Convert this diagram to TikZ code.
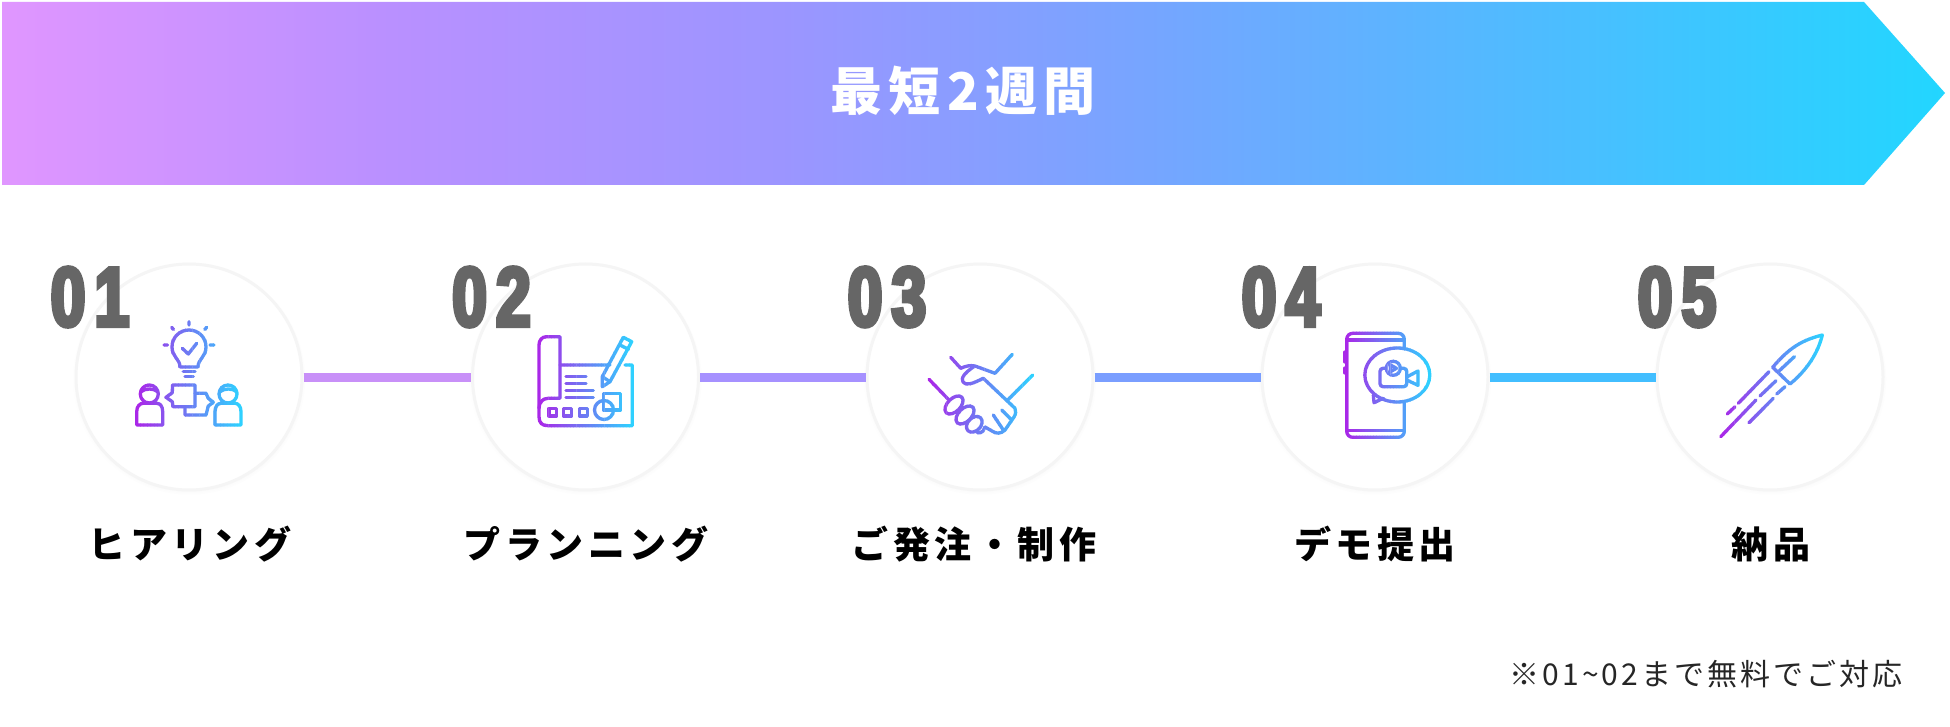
\documentclass[tikz,border=0pt]{standalone}
\usepackage{fontspec}
\usepackage{tikz}
\usetikzlibrary{shadows,fadings}
\newfontfamily\jpfont[LetterSpace=12]{Noto Sans CJK JP}
\newfontfamily\notefont[LetterSpace=10]{Noto Sans CJK JP}
\newfontfamily\numfont[FakeStretch=0.74,FakeBold=5,LetterSpace=11]{Liberation Sans Bold}
\definecolor{numgray}{HTML}{666666}
\definecolor{iconA}{HTML}{A928E8}
\definecolor{iconB}{HTML}{2FD0FF}
\definecolor{fadeA}{HTML}{E096FF}
\definecolor{fadeB}{HTML}{B990FF}
\definecolor{fadeC}{HTML}{9C95FF}
\definecolor{fadeD}{HTML}{74A6FF}
\definecolor{fadeE}{HTML}{4CBDFF}
\definecolor{fadeF}{HTML}{22D6FF}
\pgfdeclarehorizontalshading{barfade}{100bp}{color(0bp)=(fadeA); color(25bp)=(fadeA); color(35bp)=(fadeB); color(45bp)=(fadeC); color(55bp)=(fadeD); color(65bp)=(fadeE); color(75bp)=(fadeF); color(100bp)=(fadeF)}
\tikzset{
  stepcircle/.style={circle, minimum size=226pt, inner sep=0pt, fill=white, draw=black!4, line width=3pt,
    circular drop shadow={shadow xshift=0pt, shadow yshift=-1.5pt, shadow scale=1.03, opacity=0.12}},
  stepnum/.style={inner sep=0pt, text=numgray, font=\numfont\fontsize{84}{84}\selectfont},
  steplabel/.style={inner sep=0pt, text=black, font=\jpfont\bfseries\fontsize{37}{37}\selectfont},
  linkbar/.style={line width=9pt},
  iconline/.style={draw=icontint, line width=3.3pt, line cap=round, line join=round}
}
% one icon, cut in thin upright slices so the stroke runs from purple to cyan
\newcommand{\gradicon}[3]{%
  \foreach \i in {0,...,29} {
    \pgfmathsetmacro{\mixval}{100*\i/29}
    \colorlet{icontint}{iconB!\mixval!iconA}
    \pgfmathsetmacro{\slicel}{#1+(#2-#1)*\i/30-3}
    \pgfmathsetmacro{\slicer}{#1+(#2-#1)*(\i+1)/30+3.4}
    \pgfmathsetmacro{\sliceb}{\i==0 ? #1-8 : \slicel+3}
    \pgfmathsetmacro{\slicee}{\i==29 ? #2+8 : \slicer-3}
    \begin{scope}
      \clip (\sliceb,300) rectangle (\slicee,460);
      #3
    \end{scope}
  }
}
\begin{document}
\begin{tikzpicture}[x=1pt, y=-1pt]
  \useasboundingbox[fill=white] (0,0) rectangle (1950,727);

  % banner
  \shade[shading=barfade] (2,2) -- (1864,2) -- (1945,93) -- (1864,185) -- (2,185) -- cycle;
  \node[inner sep=0pt, text=white, font=\jpfont\bfseries\fontsize{52}{52}\selectfont] (title) at (963,91) {最短2週間};

  % circles, labels and numbers
  \foreach \n/\x/\lx/\nx/\t in {
    1/189/190/90/ヒアリング,
    2/585.5/586/491.5/プランニング,
    3/980/974/887/ご発注・制作,
    4/1375/1375/1281/デモ提出,
    5/1770/1771/1677/納品}
  {
    \node[stepcircle] (c\n) at (\x,377) {};
    \node[steplabel] (label\n) at (\lx,544) {\t};
  }

  % links between the circles
  \draw[linkbar, color={rgb,255:red,200;green,144;blue,248}] (c1.east) -- (c2.west);
  \draw[linkbar, color={rgb,255:red,166;green,145;blue,255}] (c2.east) -- (c3.west);
  \draw[linkbar, color={rgb,255:red,122;green,158;blue,255}] (c3.east) -- (c4.west);
  \draw[linkbar, color={rgb,255:red,66;green,190;blue,255}] (c4.east) -- (c5.west);

  \foreach \n/\x/\t in {1/90/01, 2/491.5/02, 3/887/03, 4/1281/04, 5/1677/05}
    \node[stepnum] (num\n) at (\x,297) {\t};

  % 01 bulb, two people, speech
  \gradicon{136.7}{241}{
    \draw[iconline] (180,367) .. controls (180,359) and (172,357) .. (172,347) .. controls (172,337) and (180,330) .. (189,330) .. controls (198,330) and (206,337) .. (206,347) .. controls (206,357) and (198,359) .. (198,367) -- cycle;
    \draw[iconline] (183.3,371.7) -- (195,371.7) (185,376.7) -- (193.3,376.7);
    \draw[iconline] (182.3,348.3) -- (188.3,354) -- (196.7,343.3);
    \draw[iconline] (189,321.7) -- (189,325) (171.7,327.3) -- (173.5,329.5) (206.7,327.3) -- (204.7,329.5) (164,345) -- (167.5,345) (210,345) -- (214,345);
    \draw[iconline] (149.3,394) circle (9);
    \draw[iconline] (140.5,392) .. controls (145,388) and (154,388) .. (158,392);
    \draw[iconline] (136.7,425) -- (136.7,411.7) .. controls (136.7,406) and (140,403.3) .. (143.3,403.3) -- (156.7,403.3) .. controls (160,403.3) and (162.7,406) .. (162.7,411.7) -- (162.7,425) -- cycle;
    \draw[iconline] (228,394) circle (9);
    \draw[iconline] (219.5,392) .. controls (224,388) and (233,388) .. (237,392);
    \draw[iconline] (215,425) -- (215,411.7) .. controls (215,406) and (218,403.3) .. (221,403.3) -- (235,403.3) .. controls (238,403.3) and (241,406) .. (241,411.7) -- (241,425) -- cycle;
    \draw[iconline] (172.5,385) -- (195,385) -- (195,406.7) -- (173,406.7) -- (172.3,401.7) -- (166,397.3) -- (172.3,392.7) -- cycle;
    \draw[iconline] (195,393.3) -- (206,393.3) -- (208.3,398.3) -- (213.3,402.3) -- (208.3,406) -- (206,415) -- (185,415) -- (185,406.7);
  }

  % 02 plan and pencil
  \gradicon{539}{632.3}{
    \draw[iconline] (610,365) -- (560,365) -- (560,336.7) -- (546.7,336.7) .. controls (542,336.7) and (539,340) .. (539,345) -- (539,416.7) .. controls (539,423) and (542,425.7) .. (548.3,425.7) -- (632.3,425.7) -- (632.3,365) -- (625,365);
    \draw[iconline] (560,365) -- (560,398.3) -- (548.3,398.3) .. controls (543,398.3) and (539,402) .. (539,408.3);
    \draw[iconline] (566,376.7) -- (586,376.7) (566,383.3) -- (586,383.3) (566,390.7) -- (593.3,390.7) (566,397.3) -- (593.3,397.3);
    \draw[iconline] (549,408.3) rectangle (556.7,416) (563.3,408.3) rectangle (571.7,416) (579.3,408.3) rectangle (587.3,416);
    \draw[iconline] (603.3,393.3) rectangle (620.7,410);
    \draw[iconline] (604,410) circle (9.5);
    \draw[iconline] (602.3,386.7) -- (602.3,376.7) -- (623.3,337.3) -- (631.7,341.7) -- (610,381.7) -- cycle;
    \draw[iconline] (620,345) -- (628.3,349.3) (602.3,376.7) -- (610,381.7);
  }

  % 03 handshake
  \gradicon{929}{1032.7}{
    \draw[iconline] (929,379.3) -- (948.3,399.3);
    \draw[iconline] (950.7,357.3) -- (960.7,368.3) .. controls (966,366) and (970,365) .. (975,366) -- (995,373.3) -- (1012.3,354.3);
    \draw[iconline] (1032.7,375) -- (1007.7,400);
    \draw[iconline] (973.3,367) .. controls (966,372) and (960,378) .. (963,382) .. controls (966,386) and (972,384) .. (983.3,378.3) -- (1015,408.3) .. controls (1016,411) and (1016,414) .. (1014,417) -- (1005,430) .. controls (1001,434) and (996,434) .. (992,431) -- (985,427);
    \draw[iconline] (1001.7,410) -- (1011.7,420) (993.3,415) -- (1003.3,430) (985,427) -- (983,431) .. controls (980,434) and (977,433) .. (975,431);
    \draw[iconline] (954,405) ellipse [x radius=11, y radius=6.5, rotate=45];
    \draw[iconline] (965,415) ellipse [x radius=11, y radius=6.5, rotate=45];
    \draw[iconline] (974.3,424.3) ellipse [x radius=9, y radius=6.5, rotate=45];
  }

  % 04 phone with video bubble
  \gradicon{1345}{1430}{
    \draw[iconline, rounded corners=6pt] (1404.3,349) -- (1404.3,333.3) -- (1346.7,333.3) -- (1346.7,437.3) -- (1404.3,437.3) -- (1404.3,402);
    \draw[iconline] (1346.7,340) -- (1404.3,340) (1346.7,430.7) -- (1404.3,430.7);
    \draw[iconline] (1345,352) -- (1345,362) (1345,368) -- (1345,373);
    \draw[iconline] (1397.3,375) ellipse [x radius=32.5, y radius=27];
    \draw[iconline] (1373.3,395) -- (1374,402.7) -- (1383.3,398.3);
    \draw[iconline, rounded corners=3pt] (1380,368.3) rectangle (1406.7,386.7);
    \draw[iconline, fill=white] (1393.3,368.3) circle (7);
    \draw[iconline] (1390.5,365) -- (1396.5,368.3) -- (1390.5,371.7) -- cycle;
    \draw[iconline] (1406.7,377) -- (1418,371) -- (1418,385.3) -- (1406.7,380);
  }

  % 05 rocket and trails
  \gradicon{1720.7}{1822.3}{
    \draw[iconline] (1772.7,367.3) .. controls (1790,346.7) and (1803,340) .. (1822.3,335) .. controls (1818,353) and (1807,370) .. (1790,384) -- cycle;
    \draw[iconline] (1778.3,371.7) -- (1794.3,356.7);
    \draw[iconline] (1769,371.7) -- (1738.3,403.3) (1735,406.7) -- (1727.3,414);
    \draw[iconline] (1776,380.7) -- (1760,396) (1756,400) -- (1720.7,436.7);
    \draw[iconline] (1785,386.7) -- (1776.7,394) (1773.3,398.3) -- (1749,422.7);
  }

  % note
  \node[inner sep=0pt, text=black!85, font=\notefont\fontsize{30}{30}\selectfont] (note) at (1706,674) {※01\string~02まで無料でご対応};
\end{tikzpicture}
\end{document}
